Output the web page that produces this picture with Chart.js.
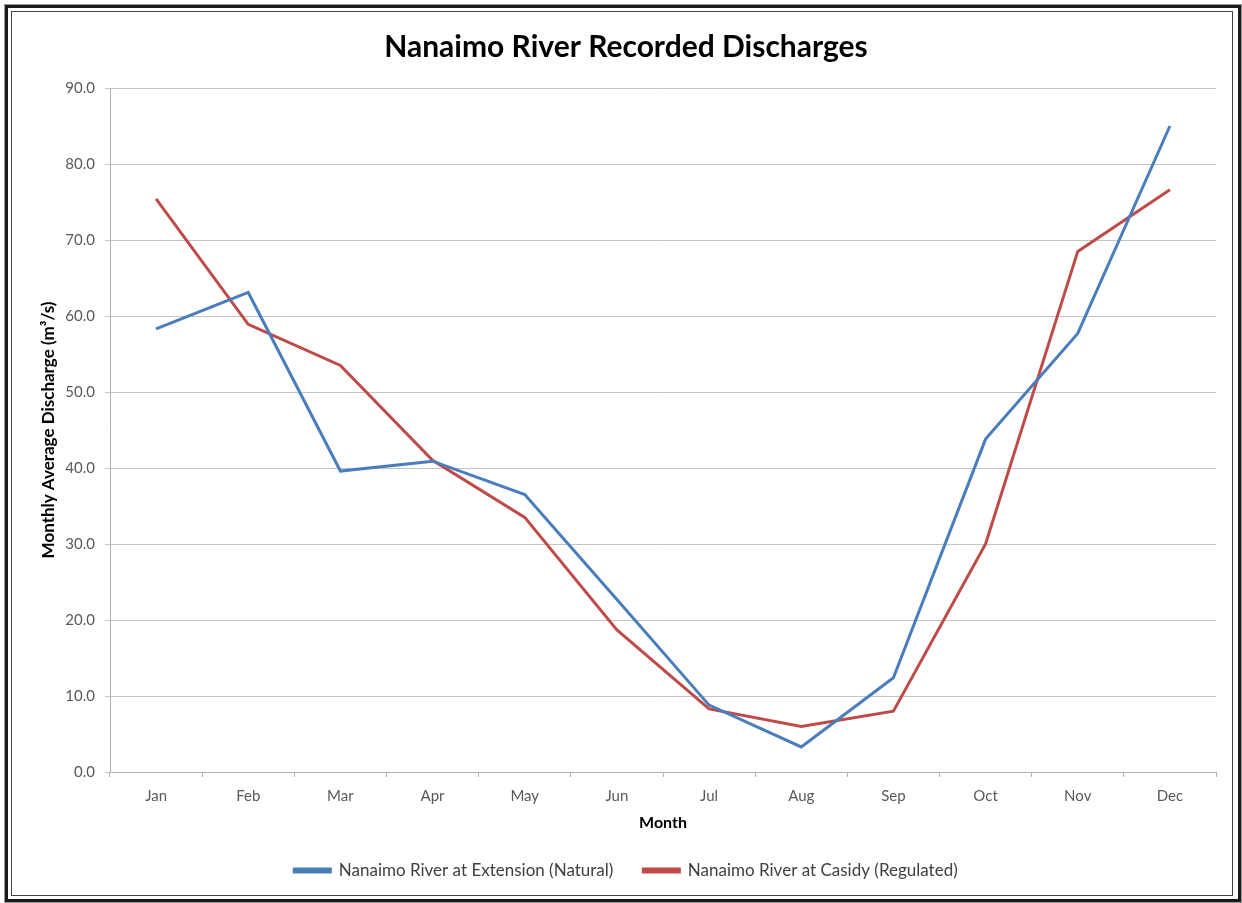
<!DOCTYPE html>
<html>
<head>
<meta charset="utf-8">
<script src="https://cdn.jsdelivr.net/npm/chart.js@4.4.1/dist/chart.umd.min.js"></script>
<style>
    html, body { margin: 0; padding: 0; background: #fff; }
    #wrap { position: relative; width: 1242px; height: 903px; overflow: hidden; }
    #chart { position: absolute; left: 0; top: 0; }
    .frame { position: absolute; pointer-events: none; box-sizing: border-box; }
    #outer { left: 5px; top: 5px; width: 1236px; height: 897px; border: 3px solid #1a1a1a; box-shadow: 0 0 0 1px #9a9a9a; }
    #inner { left: 11px; top: 11px; width: 1222px; height: 885px; border: 1px solid #444; }
</style>
</head>
<body>
<div id="wrap">
    <canvas id="chart" width="1242" height="903"></canvas>
    <div class="frame" id="outer"></div>
    <div class="frame" id="inner"></div>
</div>
<script>
const months = ['Jan', 'Feb', 'Mar', 'Apr', 'May', 'Jun', 'Jul', 'Aug', 'Sep', 'Oct', 'Nov', 'Dec'];
const naturalFlow = [58.3, 63.1, 39.6, 40.9, 36.5, 22.7, 8.8, 3.3, 12.4, 43.8, 57.7, 85.0];
const regulatedFlow = [75.4, 58.9, 53.5, 41.0, 33.5, 18.7, 8.3, 6.0, 8.0, 30.0, 68.5, 76.6];
const yTicks = [0, 10, 20, 30, 40, 50, 60, 70, 80, 90];

const fontFamily = 'Lato, "Open Sans", sans-serif';

const ctx = document.getElementById('chart').getContext('2d');

const data = {
    labels: months,
    datasets: [
        {
            label: 'Nanaimo River at Extension (Natural)',
            data: naturalFlow,
            borderColor: '#4a7ebb',
            backgroundColor: '#4a7ebb',
            borderWidth: 3,
            pointRadius: 0,
            tension: 0
        },
        {
            label: 'Nanaimo River at Casidy (Regulated)',
            data: regulatedFlow,
            borderColor: '#be4b48',
            backgroundColor: '#be4b48',
            borderWidth: 3,
            pointRadius: 0,
            tension: 0
        }
    ]
};

const optionsChart = {
    responsive: false,
    animation: false,
    layout: {
        padding: { left: 36, right: 26, top: 10, bottom: 14 }
    },
    plugins: {
        title: {
            display: true,
            text: 'Nanaimo River Recorded Discharges',
            color: '#000',
            font: { family: fontFamily, size: 30, weight: 'bold' },
            padding: { top: 19, bottom: 23 }
        },
        legend: {
            position: 'bottom',
            labels: {
                color: '#404040',
                font: { family: fontFamily, size: 17 },
                boxWidth: 36,
                boxHeight: 3,
                padding: 30
            }
        },
        tooltip: { enabled: false }
    },
    scales: {
        x: {
            offset: true,
            grid: {
                display: true,
                offset: true,
                drawOnChartArea: false,
                drawTicks: true,
                tickLength: 5,
                color: '#b0b0b0'
            },
            border: { color: '#b0b0b0', width: 1 },
            ticks: {
                color: '#595959',
                font: { family: fontFamily, size: 15 },
                padding: 10,
                maxRotation: 0
            },
            title: {
                display: true,
                text: 'Month',
                color: '#000',
                font: { family: fontFamily, size: 16, weight: 'bold' },
                padding: { top: 4, bottom: 0 }
            },
            afterFit: function(axis) {
                axis.height = 60;
            }
        },
        y: {
            min: 0,
            max: 90,
            afterBuildTicks: function(axis) {
                axis.ticks = yTicks.map(v => ({ value: v }));
            },
            grid: {
                color: '#c4c4c4',
                tickLength: 5
            },
            border: { color: '#b0b0b0', width: 1 },
            ticks: {
                color: '#595959',
                font: { family: fontFamily, size: 15 },
                padding: 10,
                callback: function(value) {
                    return value.toFixed(1);
                }
            },
            title: {
                display: true,
                text: 'Monthly Average Discharge (m\u00b3/s)',
                color: '#000',
                font: { family: fontFamily, size: 17, weight: 'bold' },
                padding: { top: 2, bottom: 4 }
            },
            afterFit: function(axis) {
                axis.width = 74;
            }
        }
    }
};

const myChart = new Chart(ctx, { type: 'line', data: data, options: optionsChart });
</script>
</body>
</html>
